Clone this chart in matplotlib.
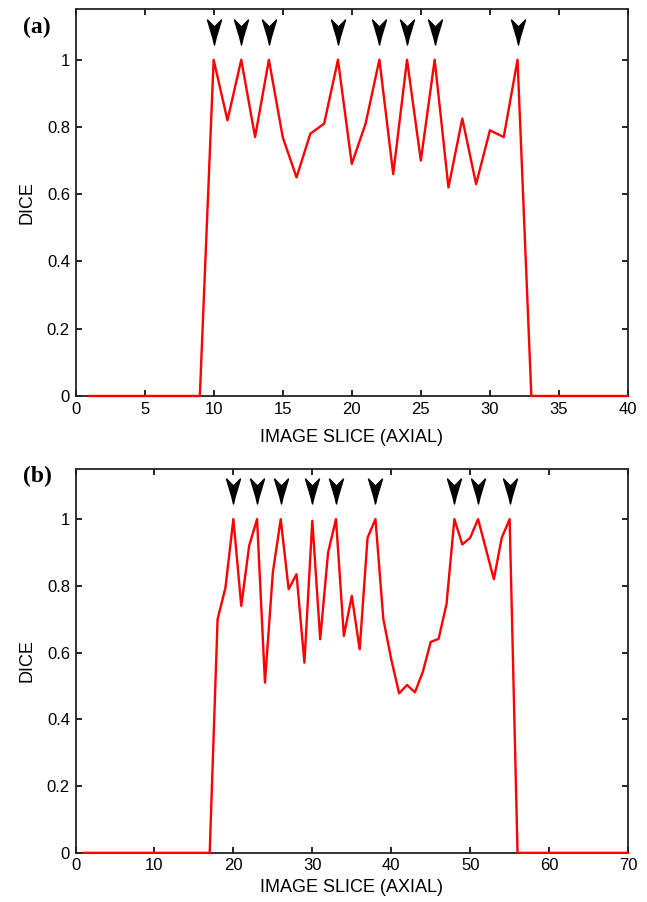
import numpy as np
import matplotlib
matplotlib.use("Agg")
import matplotlib.pyplot as plt
from matplotlib.path import Path
from matplotlib.ticker import FuncFormatter

# panel (a): slices 1..40
slices_a = list(range(1, 41))
dice_a = [0, 0, 0, 0, 0, 0, 0, 0, 0,
          1.0, 0.82, 1.0, 0.77, 1.0, 0.77, 0.65, 0.78, 0.81, 1.0, 0.69,
          0.81, 1.0, 0.66, 1.0, 0.70, 1.0, 0.62, 0.825, 0.63, 0.79,
          0.77, 1.0,
          0, 0, 0, 0, 0, 0, 0, 0]
arrows_a = [10, 12, 14, 19, 22, 24, 26, 32]

# panel (b): slices 1..70
slices_b = list(range(1, 71))
dice_b = [0] * 17 + [
    0.70, 0.795, 1.0, 0.74, 0.92, 1.0, 0.51, 0.84, 1.0, 0.79,
    0.835, 0.57, 0.995, 0.64, 0.90, 1.0, 0.65, 0.77, 0.61, 0.944,
    1.0, 0.70, 0.58, 0.478, 0.503, 0.481, 0.542, 0.632, 0.641, 0.745,
    1.0, 0.924, 0.944, 1.0, 0.91, 0.82, 0.944, 1.0,
] + [0] * 15
arrows_b = [20, 23, 26, 30, 33, 38, 48, 51, 55]

# notched arrowhead pointing down
arrow_marker = Path([(0, -0.5), (0.07, -0.2), (0.28, 0.5), (0, 0.22),
                     (-0.28, 0.5), (-0.07, -0.2), (0, -0.5)],
                    [Path.MOVETO] + [Path.LINETO] * 5 + [Path.CLOSEPOLY])

plt.rcParams["font.family"] = ["Liberation Sans", "DejaVu Sans"]

fig = plt.figure(figsize=(6.47, 9.02), dpi=100)
ax_a = fig.add_axes([0.1167, 0.561, 0.854, 0.4287])
ax_b = fig.add_axes([0.1167, 0.0545, 0.854, 0.4255])

fmt = FuncFormatter(lambda v, p: "%g" % v)

for ax, xs, ys, arr, xmax, step, xpad in [
    (ax_a, slices_a, dice_a, arrows_a, 40, 5, 9),
    (ax_b, slices_b, dice_b, arrows_b, 70, 10, 4),
]:
    ax.plot(xs, ys, color="#ff0000", lw=1.7, clip_on=False, zorder=5)
    ax.plot(arr, [1.083] * len(arr), linestyle="none", marker=arrow_marker,
            ms=18, color="black", mec="black", clip_on=False)
    ax.set_xlim(0, xmax)
    ax.set_ylim(0, 1.15)
    ax.set_xticks(np.arange(0, xmax + 1, step))
    ax.set_yticks([0, 0.2, 0.4, 0.6, 0.8, 1])
    ax.xaxis.set_major_formatter(fmt)
    ax.yaxis.set_major_formatter(fmt)
    ax.tick_params(direction="in", length=4, width=1.2, labelsize=12,
                   top=True, right=True, pad=4)
    for s in ax.spines.values():
        s.set_linewidth(1.3)
        s.set_color("#222222")
    ax.set_xlabel("IMAGE SLICE (AXIAL)", fontsize=13, labelpad=xpad)
    ax.set_ylabel("DICE", fontsize=13, labelpad=8)

fig.text(0.036, 0.970, "(a)", family="Liberation Serif", fontweight="bold",
         fontsize=17, va="center", ha="left")
fig.text(0.036, 0.472, "(b)", family="Liberation Serif", fontweight="bold",
         fontsize=17, va="center", ha="left")

fig.savefig("out.png", dpi=100)
